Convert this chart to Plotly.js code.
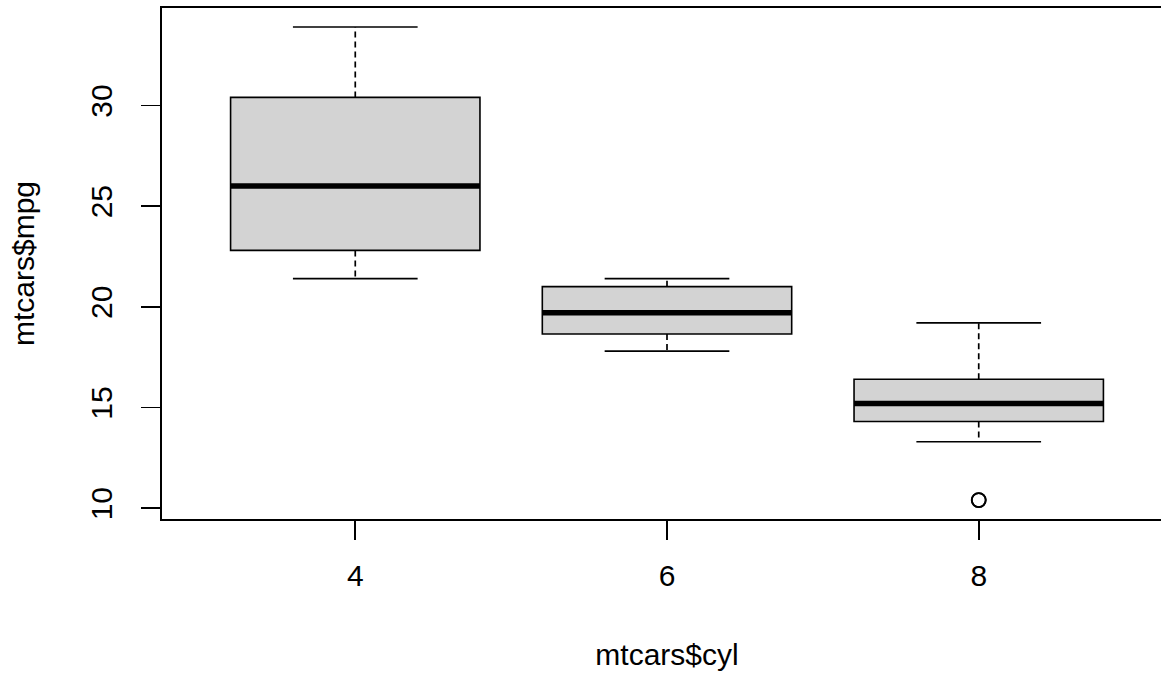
<!DOCTYPE html>
<html>
<head>
<meta charset="utf-8">
<script src="https://cdn.plot.ly/plotly-3.0.1.min.js"></script>
<style>html,body{margin:0;padding:0;overflow:hidden;background:#fff;}</style>
</head>
<body>
<div id="chart"></div>
<script>
// Data: mtcars$mpg grouped by mtcars$cyl (R boxplot statistics)
const cylLabels = ["4", "6", "8"];
const groupPos = [1, 2, 3];
const whiskerLow = [21.4, 17.8, 13.3];
const q1 = [22.8, 18.65, 14.3];
const medians = [26.0, 19.7, 15.2];
const q3 = [30.4, 21.0, 16.4];
const whiskerHigh = [33.9, 21.4, 19.2];
const outlierGroup = [3, 3];
const outlierValues = [10.4, 10.4];
const yTicks = [10, 15, 20, 25, 30];

const boxWidth = 0.8;
const capWidth = 0.4;

const traces = [];

// Boxes (no plotly whiskers: fences set to quartiles)
traces.push({
  type: "box",
  x: groupPos,
  q1: q1,
  median: medians,
  q3: q3,
  lowerfence: q1,
  upperfence: q3,
  width: boxWidth,
  fillcolor: "#d3d3d3",
  line: {color: "#000000", width: 1.6},
  whiskerwidth: 0,
  boxpoints: false,
  hoverinfo: "skip",
  showlegend: false
});

// Dashed whiskers, solid caps, thick medians
const wx = [], wy = [], cx = [], cy = [], mx = [], my = [];
groupPos.forEach((p, i) => {
  wx.push(p, p, null, p, p, null);
  wy.push(q3[i], whiskerHigh[i], null, q1[i], whiskerLow[i], null);
  cx.push(p - capWidth / 2, p + capWidth / 2, null, p - capWidth / 2, p + capWidth / 2, null);
  cy.push(whiskerHigh[i], whiskerHigh[i], null, whiskerLow[i], whiskerLow[i], null);
  mx.push(p - boxWidth / 2, p + boxWidth / 2, null);
  my.push(medians[i], medians[i], null);
});
traces.push({type: "scatter", mode: "lines", x: wx, y: wy, line: {color: "#000", width: 1.7, dash: "6px,4px"}, hoverinfo: "skip", showlegend: false});
traces.push({type: "scatter", mode: "lines", x: cx, y: cy, line: {color: "#000", width: 1.6}, hoverinfo: "skip", showlegend: false});
traces.push({type: "scatter", mode: "lines", x: mx, y: my, line: {color: "#000", width: 5.5}, hoverinfo: "skip", showlegend: false});

// Outliers
traces.push({
  type: "scatter", mode: "markers", x: outlierGroup, y: outlierValues,
  marker: {symbol: "circle-open", size: 14, color: "#000", line: {width: 1.8, color: "#000"}},
  hoverinfo: "skip", showlegend: false
});

const font = {family: "Liberation Sans, Arial, sans-serif", size: 30, color: "#000"};

const layout = {
  width: 1172,
  height: 673,
  margin: {l: 161.5, r: 0, t: 8, b: 153.5},
  paper_bgcolor: "#fff",
  plot_bgcolor: "#fff",
  font: font,
  showlegend: false,
  xaxis: {
    range: [0.38, 3.62],
    tickmode: "array",
    tickvals: groupPos,
    ticktext: cylLabels,
    ticks: "outside",
    ticklen: 19,
    tickwidth: 1.6,
    tickcolor: "#000",
    showline: true,
    linecolor: "#000",
    linewidth: 1.8,
    mirror: true,
    showgrid: false,
    zeroline: false,
    tickfont: font,
    ticklabelstandoff: 10,
    title: {text: "mtcars$cyl", font: font, standoff: 53}
  },
  yaxis: {
    range: [9.46, 34.84],
    tickmode: "array",
    tickvals: yTicks,
    ticktext: yTicks.map(String),
    tickangle: -90,
    ticks: "outside",
    ticklen: 19,
    tickwidth: 1.6,
    tickcolor: "#000",
    showline: true,
    linecolor: "#000",
    linewidth: 1.8,
    mirror: true,
    showgrid: false,
    zeroline: false,
    tickfont: font,
    ticklabelstandoff: 17,
    title: {text: "mtcars$mpg", font: font, standoff: 42}
  }
};

Plotly.newPlot("chart", traces, layout, {displayModeBar: false, staticPlot: true});
</script>
</body>
</html>
